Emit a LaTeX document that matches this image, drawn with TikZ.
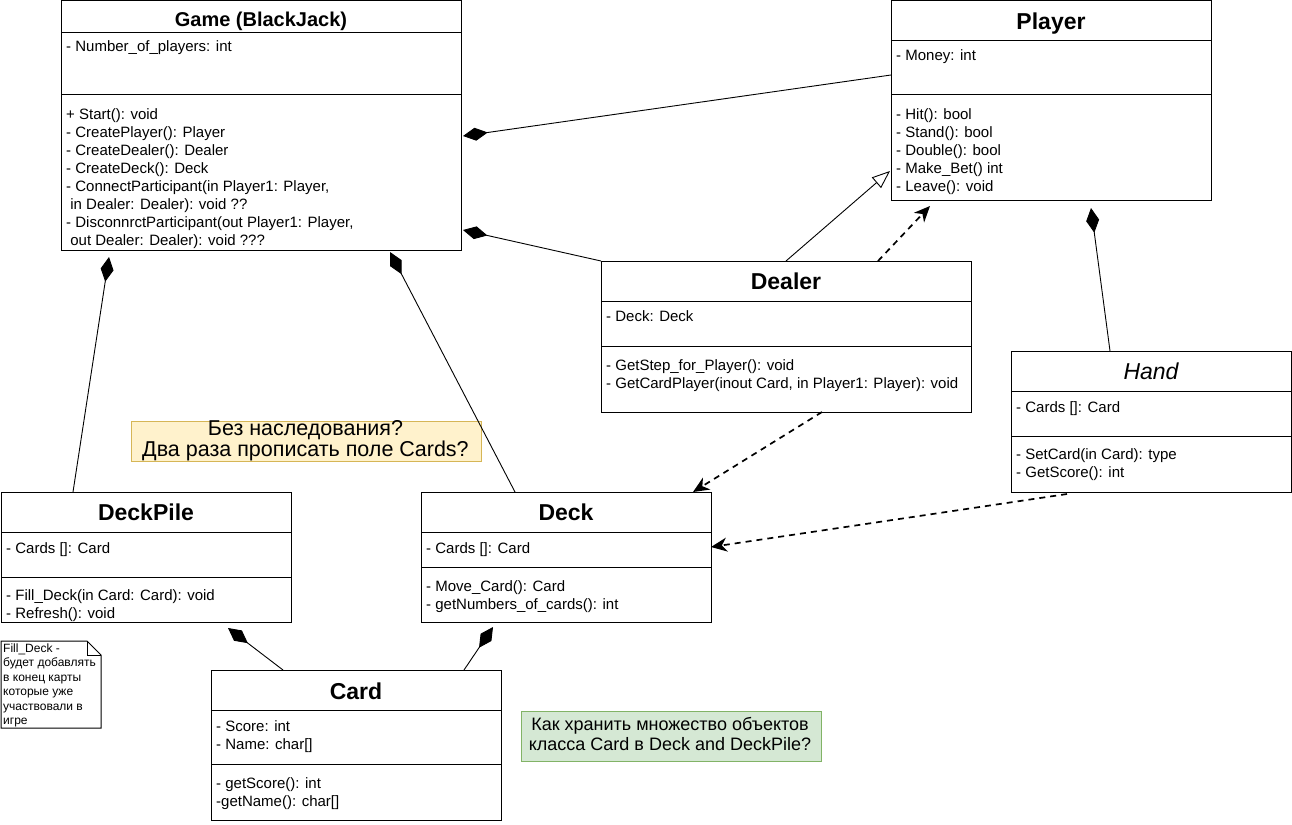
\documentclass[tikz,border=0pt]{standalone}
\usepackage{fontspec}
\setmainfont{Liberation Sans}
\usetikzlibrary{arrows.meta,calc}

\definecolor{noteyellow}{HTML}{FFF2CC}
\definecolor{noteyellowline}{HTML}{D6B656}
\definecolor{notegreen}{HTML}{D5E8D4}
\definecolor{notegreenline}{HTML}{82B366}

% class frame: name, x, y, width, height, header separator, attribute separator
\newcommand\classframe[7]{%
  \node[umlbox, minimum width=#4pt, minimum height=#5pt] (#1) at (#2,#3) {};
  \draw[line width=1pt] ($(#1.north west)+(0,#6)$) -- ($(#1.north east)+(0,#6)$);
  \draw[line width=1pt] ($(#1.north west)+(0,#7)$) -- ($(#1.north east)+(0,#7)$);
}

% multi-line nodes sit on the baseline of their last line,
% so the y offsets below are those of the last line
\begin{document}
\begin{tikzpicture}[x=1pt,y=-1pt,
  umlbox/.style={draw, line width=1pt, anchor=north west, inner sep=0pt, outer sep=0pt},
  classtitle/.style={font=\fontsize{23}{26}\selectfont\bfseries, anchor=base, inner sep=0pt},
  members/.style={font=\fontsize{15}{18}\selectfont, align=left, anchor=base west, inner sep=0pt},
  comp/.style={draw, line width=0.9pt, {Diamond[length=25pt,width=13pt]}-},
  inherit/.style={draw, line width=0.9pt, -{Triangle[open,length=18pt,width=14pt]}},
  dep/.style={draw, line width=1.7pt, dash pattern=on 6pt off 5pt,
              -{Stealth[length=16pt,width=14pt,inset=5pt]}},
]
\useasboundingbox (0,0) rectangle (1292,824);
\fill[white] (0,0) rectangle (1292,824);

% ---------- Game ----------
\classframe{game}{61}{1}{400}{249}{32}{94}
\node[classtitle, font=\fontsize{20}{24}\selectfont\bfseries] (game-title) at ($(game.north)+(0,26)$) {Game (BlackJack)};
\node[members] (game-attr) at ($(game.north west)+(5,51)$) {- Number\_of\_players: int};
\node[members] (game-ops) at ($(game.north west)+(5,244)$) {+ Start(): void\\
- CreatePlayer(): Player\\
- CreateDealer(): Dealer\\
- CreateDeck(): Deck\\
- ConnectParticipant(in Player1: Player,\\
~in Dealer: Dealer): void ??\\
- DisconnrctParticipant(out Player1: Player,\\
~out Dealer: Dealer): void ???};

% ---------- Player ----------
\classframe{player}{891}{1}{320}{199}{40}{94}
\node[classtitle] (player-title) at ($(player.north)+(0,29)$) {Player};
\node[members] (player-attr) at ($(player.north west)+(5,60)$) {- Money: int};
\node[members] (player-ops) at ($(player.north west)+(5,190)$) {- Hit(): bool\\
- Stand(): bool\\
- Double(): bool\\
- Make\_Bet() int\\
- Leave(): void};

% ---------- Dealer ----------
\classframe{dealer}{601}{261}{370}{151}{40}{85}
\node[classtitle] (dealer-title) at ($(dealer.north)+(0,28)$) {Dealer};
\node[members] (dealer-attr) at ($(dealer.north west)+(5,60)$) {- Deck: Deck};
\node[members] (dealer-ops) at ($(dealer.north west)+(5,127)$) {- GetStep\_for\_Player(): void\\
- GetCardPlayer(inout Card, in Player1: Player): void};

% ---------- Hand ----------
\classframe{hand}{1011}{351}{280}{141}{40}{85}
\node[classtitle, font=\fontsize{23}{26}\selectfont\itshape] (hand-title) at ($(hand.north)+(0,28)$) {Hand};
\node[members] (hand-attr) at ($(hand.north west)+(5,61)$) {- Cards []: Card};
\node[members] (hand-ops) at ($(hand.north west)+(5,126)$) {- SetCard(in Card): type\\
- GetScore(): int};

% ---------- DeckPile ----------
\classframe{deckpile}{1}{492}{290}{130}{40}{85}
\node[classtitle] (deckpile-title) at ($(deckpile.north)+(0,28)$) {DeckPile};
\node[members] (deckpile-attr) at ($(deckpile.north west)+(5,61)$) {- Cards []: Card};
\node[members] (deckpile-ops) at ($(deckpile.north west)+(5,126)$) {- Fill\_Deck(in Card: Card): void\\
- Refresh(): void};

% ---------- Deck ----------
\classframe{deck}{421}{492}{290}{130}{40}{75}
\node[classtitle] (deck-title) at ($(deck.north)+(0,28)$) {Deck};
\node[members] (deck-attr) at ($(deck.north west)+(5,61)$) {- Cards []: Card};
\node[members] (deck-ops) at ($(deck.north west)+(5,117)$) {- Move\_Card(): Card\\
- getNumbers\_of\_cards(): int};

% ---------- Card ----------
\classframe{card}{211}{670}{290}{150}{40}{94}
\node[classtitle] (card-title) at ($(card.north)+(0,29)$) {Card};
\node[members] (card-attr) at ($(card.north west)+(5,79)$) {- Score: int\\
- Name: char[]};
\node[members] (card-ops) at ($(card.north west)+(5,136)$) {- getScore(): int\\
-getName(): char[]};

% ---------- notes ----------
\node[draw=noteyellowline, fill=noteyellow, line width=1pt, anchor=north west,
      minimum width=350pt, minimum height=40pt, inner sep=0pt] (question1) at (131,421) {};
\node[font=\fontsize{21.5}{21}\selectfont, align=center, anchor=base, inner sep=0pt]
      (question1-text) at (305.5,456) {Без наследования?\\Два раза прописать поле Cards?};

\node[draw=notegreenline, fill=notegreen, line width=1pt, anchor=north west,
      minimum width=300pt, minimum height=50pt, inner sep=0pt] (question2) at (521,711) {};
\node[font=\fontsize{18}{20}\selectfont, align=center, anchor=base, inner sep=0pt]
      (question2-text) at (670,750) {Как хранить множество объектов\\класса Card в Deck and DeckPile?};

% folded note about Fill_Deck
\coordinate (memo-nw) at (1,641);
\coordinate (memo-se) at (101,728);
\draw[line width=1pt, fill=white] (memo-nw) -- (87,641) -- (101,655) -- (memo-se) -- (1,728) -- cycle;
\draw[line width=1pt] (87,641) -- (87,655) -- (101,655);
\node[font=\fontsize{12}{14.5}\selectfont, align=left, anchor=base west, inner sep=0pt]
      (memo-text) at (3,724.5) {Fill\_Deck -\\будет добавлять\\в конец карты\\которые уже\\участвовали в\\игре};

% ---------- connectors ----------
\draw[comp] ($(game.north east)+(2,135)$) -- ($(player.north west)+(0,74)$);
\draw[comp] ($(game.north east)+(2,229)$) -- (dealer.north west);
\draw[inherit] ($(dealer.north west)+(185,0)$) -- ($(player.north west)+(-1,170)$);
\draw[dep] ($(dealer.north west)+(277,0)$) -- ($(player.south west)+(39,6)$);
\draw[comp] ($(player.south west)+(200,8)$) -- ($(hand.north west)+(99,0)$);
\draw[comp] ($(game.south west)+(48,7)$) -- ($(deckpile.north west)+(72,0)$);
\draw[comp] ($(game.south west)+(329,2)$) -- ($(deck.north west)+(94,0)$);
\draw[dep] ($(dealer.south west)+(221,0)$) -- ($(deck.north east)+(-18,0)$);
\draw[dep] ($(hand.south west)+(56,2)$) -- ($(deck.north east)+(0,55)$);
\draw[comp] ($(deckpile.south west)+(227,6)$) -- ($(card.north west)+(72,0)$);
\draw[comp] ($(deck.south west)+(72,5)$) -- ($(card.north west)+(253,0)$);
\end{tikzpicture}
\end{document}
